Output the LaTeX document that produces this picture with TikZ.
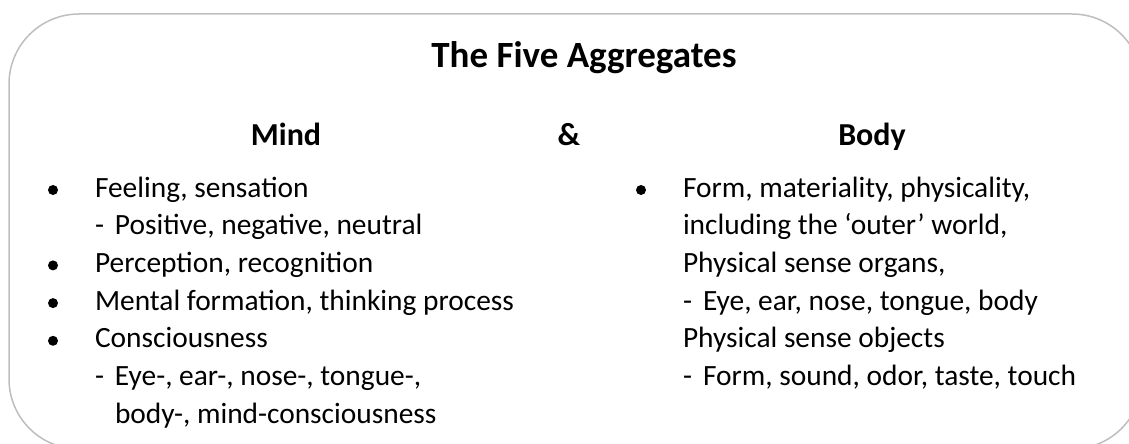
\documentclass[tikz,border=0pt]{standalone}
\usepackage{fontspec}
\setmainfont{Carlito}
\usetikzlibrary{positioning}
\definecolor{boxgray}{RGB}{190,190,190}
\newcommand{\subline}[1]{\makebox[10pt][l]{-}#1}

\begin{document}
\begin{tikzpicture}[x=0.5pt, y=-0.5pt,
    every node/.style = {inner sep=0pt, outer sep=0pt},
    title/.style = {anchor=base, font=\fontsize{18.5}{20}\selectfont\bfseries},
    head/.style = {anchor=base, font=\fontsize{16}{18}\selectfont\bfseries},
    item/.style = {anchor=base west, font=\fontsize{14.7}{16}\selectfont},
    dot/.style = {circle, fill=black, minimum size=5pt}
    ]
    \clip (0,0) rectangle (1129,444);
    \draw[draw=boxgray, line width=0.75pt, rounded corners=35pt] (9,14) rectangle (1142,449);

    \node[title] (title) at (584,68) {The Five Aggregates};
    \node[head] (mind) at (286,146) {Mind};
    \node[head] (and) at (569,146) {\&};
    \node[head] (body) at (872,146) {Body};

    % mind column
    \node[item] (feel) at (95,197) {Feeling, sensation};
    \node[item] (feelsub) at (95,234.7) {\subline{Positive, negative, neutral}};
    \node[item] (perc) at (95,272.4) {Perception, recognition};
    \node[item] (ment) at (95,310.1) {Mental formation, thinking process};
    \node[item] (cons) at (95,347.8) {Consciousness};
    \node[item] (conssub) at (95,385.5) {\subline{Eye-, ear-, nose-, tongue-,}};
    \node[item] (conssub2) at (115,423.2) {body-, mind-consciousness};
    \node[dot] at (53,190) {};
    \node[dot] at (53,265.4) {};
    \node[dot] at (53,303.1) {};
    \node[dot] at (53,340.8) {};

    % body column
    \node[item] (form) at (683,197) {Form, materiality, physicality,};
    \node[item] (outer) at (683,234.7) {including the ‘outer’ world,};
    \node[item] (organs) at (683,272.4) {Physical sense organs,};
    \node[item] (organsub) at (683,310.1) {\subline{Eye, ear, nose, tongue, body}};
    \node[item] (objects) at (683,347.8) {Physical sense objects};
    \node[item] (objectsub) at (683,385.5) {\subline{Form, sound, odor, taste, touch}};
    \node[dot] at (641,190) {};
\end{tikzpicture}
\end{document}
